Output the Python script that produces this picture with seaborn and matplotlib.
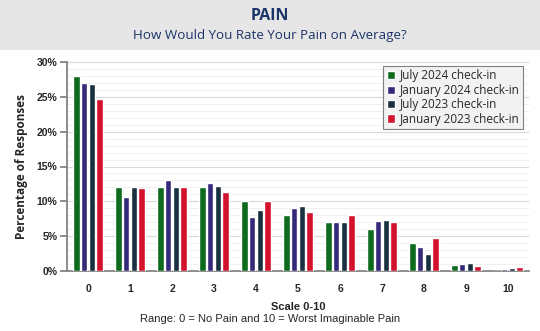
import matplotlib
matplotlib.use("Agg")
import matplotlib.pyplot as plt
from matplotlib.patches import Rectangle
from matplotlib.ticker import MultipleLocator, PercentFormatter
import seaborn as sns
import pandas as pd

# Pain rating scale and survey waves
scale = ["0", "1", "2", "3", "4", "5", "6", "7", "8", "9", "10"]
waves = ["July 2024 check-in", "January 2024 check-in",
         "July 2023 check-in", "January 2023 check-in"]

# Percentage of responses per rating, one list per wave
jul_2024 = [28.0, 12.0, 12.0, 12.0, 10.0, 8.0, 7.0, 6.0, 4.0, 0.9, 0.0]
jan_2024 = [27.0, 10.6, 13.1, 12.7, 7.8, 9.1, 7.1, 7.2, 3.4, 1.0, 0.3]
jul_2023 = [26.8, 12.1, 12.0, 12.2, 8.7, 9.3, 7.0, 7.3, 2.5, 1.1, 0.5]
jan_2023 = [24.7, 11.9, 12.0, 11.3, 10.0, 8.5, 8.0, 7.0, 4.7, 0.7, 0.6]

colors = ["#0e6b1e", "#35297a", "#18303f", "#d3122b"]

rows = []
for wave, vals in zip(waves, [jul_2024, jan_2024, jul_2023, jan_2023]):
    for s, v in zip(scale, vals):
        rows.append({"Scale": s, "Wave": wave, "Pct": v})
df = pd.DataFrame(rows)

sns.set_theme(style="white")
plt.rcParams["font.family"] = ["Liberation Sans", "DejaVu Sans"]

fig = plt.figure(figsize=(5.40, 3.31), dpi=100)
fig.patch.set_facecolor("white")

# Header band
fig.patches.append(Rectangle((0, 1 - 50 / 331), 1, 50 / 331, transform=fig.transFigure,
                             facecolor="#e6e6e6", edgecolor="none", zorder=0))
fig.text(0.5, 1 - 16 / 331, "PAIN", ha="center", va="center", fontsize=11.5,
         fontweight="bold", color="#1c3468", family=["Open Sans", "DejaVu Sans"])
fig.text(0.5, 1 - 35 / 331, "How Would You Rate Your Pain on Average?", ha="center",
         va="center", fontsize=9.6, color="#1c3468", family=["Open Sans", "DejaVu Sans"])

ax = fig.add_axes([67 / 540, 1 - 271 / 331, (529 - 67) / 540, (271 - 62) / 331])
sns.barplot(data=df, x="Scale", y="Pct", hue="Wave", order=scale, hue_order=waves,
            palette=colors, width=0.74, gap=0.18, saturation=1, ax=ax, zorder=3)

ax.set_ylim(0, 30)
ax.yaxis.set_major_locator(MultipleLocator(5))
ax.yaxis.set_minor_locator(MultipleLocator(1))
ax.yaxis.set_major_formatter(PercentFormatter(decimals=0))
ax.grid(axis="y", which="major", color="#d9d9d9", linewidth=0.8, zorder=0)
ax.grid(axis="y", which="minor", color="#eeeeee", linewidth=0.6, zorder=0)
ax.grid(axis="x", visible=False)
for side in ["top", "right"]:
    ax.spines[side].set_visible(False)
ax.spines["left"].set_color("#808080")
ax.spines["bottom"].set_color("#808080")
ax.tick_params(axis="y", which="major", left=True, length=5, color="#808080",
               labelsize=7.5, pad=2)
ax.tick_params(axis="y", which="minor", left=False)
ax.tick_params(axis="x", bottom=False, labelsize=7.5, pad=3)
for lab in ax.get_xticklabels() + ax.get_yticklabels():
    lab.set_fontweight("bold")

ax.set_xlabel("Scale 0-10", fontsize=8, fontweight="bold", labelpad=6)
ax.set_ylabel("Percentage of Responses", fontsize=8.5, fontweight="bold",
              family=["Open Sans", "DejaVu Sans"], labelpad=6)
fig.text(0.5, 1 - 319 / 331, "Range: 0 = No Pain and 10 = Worst Imaginable Pain",
         ha="center", va="center", fontsize=8)

leg = ax.legend(loc="upper right", bbox_to_anchor=(1.0, 1.01), frameon=True,
                fancybox=False, edgecolor="#808080", facecolor="#f2f2f2",
                framealpha=1, handlelength=0.7, handleheight=0.7, handletextpad=0.4,
                borderpad=0.3, labelspacing=0.12,
                prop={"family": ["Open Sans", "DejaVu Sans"], "size": 8.5})
leg.get_frame().set_linewidth(0.8)
leg.set_zorder(5)

fig.savefig("out.png", dpi=100)
